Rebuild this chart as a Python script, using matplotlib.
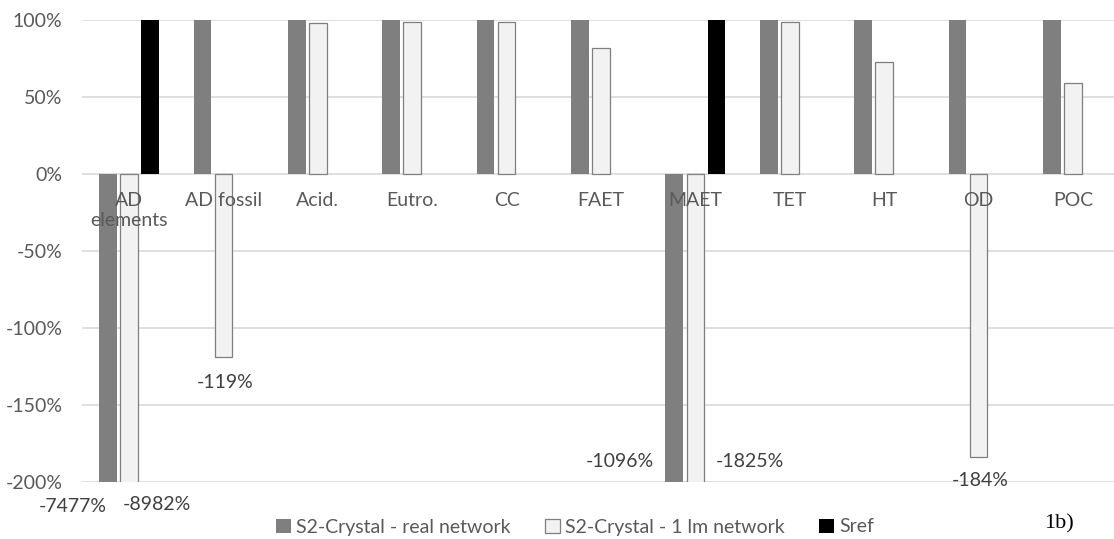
import matplotlib
matplotlib.use("Agg")
import matplotlib.pyplot as plt
from matplotlib.patches import Patch
import numpy as np

# ---- data ----
categories = ["AD\nelements", "AD fossil", "Acid.", "Eutro.", "CC", "FAET",
              "MAET", "TET", "HT", "OD", "POC"]
series_names = ["S2-Crystal - real network", "S2-Crystal - 1 lm network", "Sref"]
real_network = [-7477, 100, 100, 100, 100, 100, -1096, 100, 100, 100, 100]
lm_network = [-8982, -119, 98, 99, 99, 82, -1825, 99, 73, -184, 59]
sref = [100, 0, 0, 0, 0, 0, 100, 0, 0, 0, 0]
y_ticks = [-200, -150, -100, -50, 0, 50, 100]
panel_tag = "1b)"

# ---- style ----
FONT = ["Lato", "DejaVu Sans"]
plt.rcParams["font.family"] = FONT
FS = 14
W, H = 1114, 539
fig = plt.figure(figsize=(W / 100, H / 100), dpi=100)
ax = fig.add_axes([82 / W, 1 - 482 / H, 1038 / W, 462 / H])

x = np.arange(len(categories))
bw = 0.187
off = 0.223
styles = [
    dict(color="#7f7f7f", edgecolor="none"),
    dict(color="#f2f2f2", edgecolor="#7f7f7f", linewidth=0.9),
    dict(color="#000000", edgecolor="none"),
]
all_series = [real_network, lm_network, sref]
for k, (vals, st) in enumerate(zip(all_series, styles)):
    ax.bar(x + (k - 1) * off, vals, width=bw, zorder=3, **st)

ax.set_xlim(-0.5, len(categories) - 0.5)
ax.set_ylim(-200, 100)
ax.set_yticks(y_ticks)
ax.set_yticklabels([f"{v}%" for v in y_ticks])
ax.set_xticks(x)
ax.set_xticklabels(categories, linespacing=1.15)
ax.tick_params(axis="both", length=0, labelsize=FS, labelcolor="#595959")
ax.tick_params(axis="x", pad=13)
ax.tick_params(axis="y", pad=14)
ax.spines["bottom"].set_position(("data", 0))
for s in ax.spines.values():
    s.set_visible(False)
ax.yaxis.grid(True, color="#d9d9d9", linewidth=1.2, zorder=0)
ax.set_axisbelow(True)
ax.xaxis.set_zorder(6)

# data labels for negative values (offsets in pixels are style)
label_offsets = {
    (0, 0): (-35, -25), (1, 0): (28, -23),
    (1, 1): (2, -25),
    (0, 6): (-55, 20), (1, 6): (55, 20),
    (1, 9): (2, -23),
}
for k, vals in enumerate(all_series[:2]):
    for i, v in enumerate(vals):
        if v < 0:
            dx, dy = label_offsets.get((k, i), (0, -25))
            ax.annotate(f"{v}%", xy=(x[i] + (k - 1) * off, max(v, -200)),
                        xytext=(dx, dy), textcoords="offset pixels",
                        ha="center", va="center", fontsize=FS,
                        color="#404040", annotation_clip=False, zorder=5)

handles = [Patch(facecolor=st["color"], edgecolor=st.get("edgecolor", "none"),
                 linewidth=st.get("linewidth", 0)) for st in styles]
fig.legend(handles, series_names, loc="center", bbox_to_anchor=(575 / W, 1 - 527 / H),
           ncol=3, frameon=False, fontsize=FS, handlelength=0.75, handleheight=0.75,
           handletextpad=0.25, columnspacing=1.8, labelcolor="#595959")

fig.text(1059 / W, 1 - 524 / H, panel_tag, ha="center", va="center",
         fontsize=16, family=["Liberation Serif", "DejaVu Serif"], color="black")

fig.savefig("out.png", dpi=100)
